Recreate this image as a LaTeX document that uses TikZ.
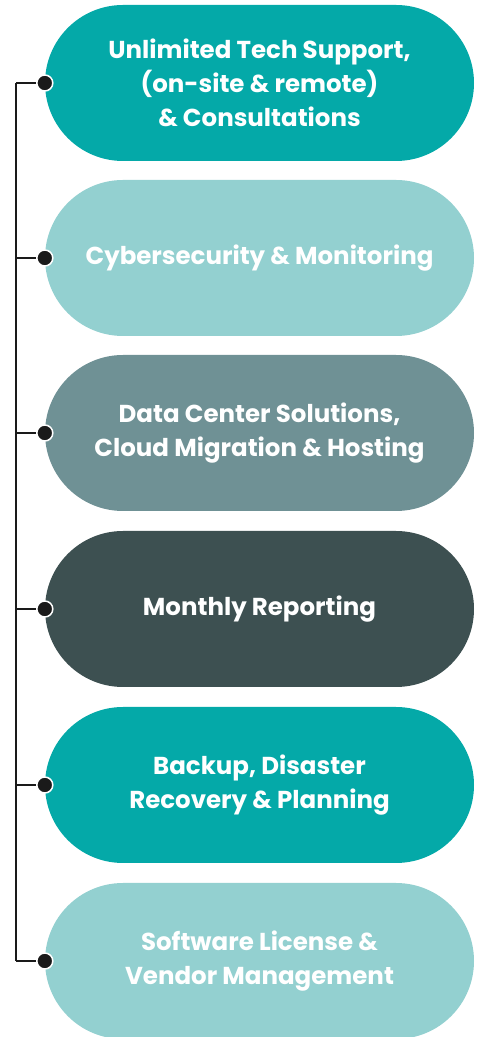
\documentclass[tikz,border=0pt]{standalone}
\usepackage{fontspec}
\setmainfont{Poppins}
\usepackage{tikz}

\definecolor{tealA}{HTML}{04A9A8}
\definecolor{tealL}{HTML}{93D0D0}
\definecolor{slateM}{HTML}{6F9195}
\definecolor{slateD}{HTML}{3D5051}
\definecolor{linek}{HTML}{1A1A1A}

\tikzset{
  pill/.style={rectangle, rounded corners=78pt, minimum width=429pt, minimum height=156pt,
    text=white, align=center, inner sep=0pt, font=\bfseries\fontsize{24.5}{34}\selectfont},
  knob/.style={circle, fill=linek, draw=white, line width=1.5pt, minimum size=16pt, inner sep=0pt}
}

\begin{document}
\begin{tikzpicture}[x=1pt,y=1pt]
\useasboundingbox (0,0) rectangle (482,1037);
\node[pill, fill=tealA] (s1) at (259.5,954) {Unlimited Tech Support,\\(on-site \& remote)\\\& Consultations};
\node[pill, fill=tealL] (s2) at (259.5,779) {Cybersecurity \& Monitoring};
\node[pill, fill=slateM] (s3) at (259.5,604) {Data Center Solutions,\\Cloud Migration \& Hosting};
\node[pill, fill=slateD] (s4) at (259.5,428) {Monthly Reporting};
\node[pill, fill=tealA] (s5) at (259.5,252) {Backup, Disaster\\Recovery \& Planning};
\node[pill, fill=tealL] (s6) at (259.5,76) {Software License \&\\Vendor Management};
% trunk and branches
\coordinate (t1) at (16,955);
\coordinate (t6) at (16,76);
\draw[linek, line width=1.6pt] (s1.west -| t1) -- (t6);
\foreach \i in {1,...,6}
  \draw[linek, line width=1.6pt] (s\i.west) -- (s\i.west -| t1);
\foreach \i in {1,...,6}
  \node[knob] (k\i) at (s\i.west) {};
\end{tikzpicture}
\end{document}
